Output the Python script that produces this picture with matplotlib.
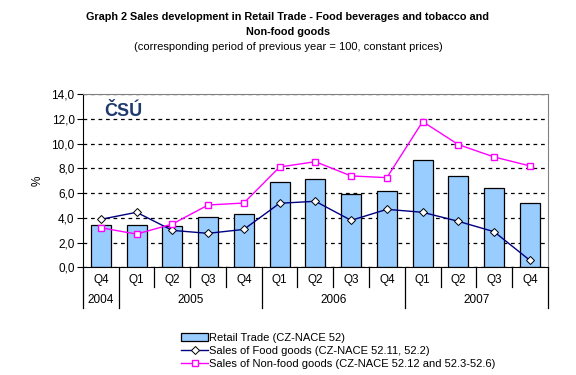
import matplotlib
matplotlib.use('Agg')
import matplotlib.pyplot as plt
import numpy as np

plt.rcParams['font.family'] = ['Liberation Sans', 'DejaVu Sans']

quarters = ['Q4', 'Q1', 'Q2', 'Q3', 'Q4', 'Q1', 'Q2', 'Q3', 'Q4', 'Q1', 'Q2', 'Q3', 'Q4']
years = ['2004', '2005', '2006', '2007']
year_spans = [1, 4, 4, 4]
retail = [3.42, 3.40, 3.34, 4.07, 4.29, 6.88, 7.14, 5.93, 6.15, 8.66, 7.36, 6.39, 5.18]
food = [3.88, 4.45, 2.99, 2.75, 3.07, 5.18, 5.34, 3.80, 4.69, 4.45, 3.72, 2.88, 0.57]
nonfood = [3.20, 2.69, 3.50, 5.04, 5.20, 8.11, 8.54, 7.39, 7.25, 11.78, 9.92, 8.92, 8.20]

fig = plt.figure(figsize=(5.76, 3.75), dpi=100)
ax = fig.add_axes([0.144, 0.287, 0.807, 0.462])

x = np.arange(len(quarters))
b = ax.bar(x, retail, width=0.56, color='#99CCFF', edgecolor='black', linewidth=0.9,
           label='Retail Trade (CZ-NACE 52)', zorder=2)
l1, = ax.plot(x, food, color='#000080', linewidth=1, marker='D', markersize=4.5,
              markerfacecolor='white', markeredgecolor='black', markeredgewidth=0.7,
              label='Sales of Food goods (CZ-NACE 52.11, 52.2)', zorder=3)
l2, = ax.plot(x, nonfood, color='#FF00FF', linewidth=1, marker='s', markersize=5,
              markerfacecolor='white', markeredgecolor='#FF00FF', markeredgewidth=1,
              label='Sales of Non-food goods (CZ-NACE 52.12 and 52.3-52.6)', zorder=3)

ax.set_xlim(-0.5, len(quarters) - 0.5)
ax.set_ylim(0, 14)
ax.set_yticks(np.arange(0, 15, 2))
ax.set_yticklabels([('%.1f' % v).replace('.', ',') for v in np.arange(0, 15, 2)], fontsize=8.5)
ax.tick_params(axis='y', length=4, width=0.8, pad=2)
ax.yaxis.grid(True, linestyle=(0, (3, 3)), color='black', linewidth=0.9, zorder=1)
ax.set_axisbelow(True)
ax.set_ylabel('%', fontsize=8.5, labelpad=6)

ax.spines['top'].set_color('#808080')
ax.spines['right'].set_color('#808080')
ax.spines['left'].set_color('black')
ax.spines['bottom'].set_color('black')

# two-level category axis
ax.set_xticks([])
trans = ax.get_xaxis_transform()
for i, q in enumerate(quarters):
    ax.text(i, -0.075, q, transform=trans, ha='center', va='center', fontsize=8.5)
bounds = np.arange(len(quarters) + 1) - 0.5
year_edges = np.concatenate([[0], np.cumsum(year_spans)]) - 0.5
for e in bounds:
    low = -0.237 if e in year_edges else -0.115
    ax.plot([e, e], [0, low], transform=trans, color='black', lw=0.9, clip_on=False)
for k, yr in enumerate(years):
    mid = (year_edges[k] + year_edges[k + 1]) / 2
    ax.text(mid, -0.19, yr, transform=trans, ha='center', va='center', fontsize=8.5)

ax.text(0.045, 0.9, 'ČSÚ', transform=ax.transAxes, fontsize=13, fontweight='bold',
        color='#1F3A6E', ha='left', va='center')

fig.text(0.5, 0.955, 'Graph 2 Sales development in Retail Trade - Food beverages and tobacco and',
         ha='center', va='center', fontsize=7.8, fontweight='bold')
fig.text(0.5, 0.915, 'Non-food goods', ha='center', va='center', fontsize=7.8, fontweight='bold')
fig.text(0.5, 0.875, '(corresponding period of previous year = 100, constant prices)',
         ha='center', va='center', fontsize=8)

fig.legend(handles=[b, l1, l2], loc='upper left', bbox_to_anchor=(0.305, 0.128), frameon=False,
           fontsize=8, handlelength=2.4, handletextpad=0.1, labelspacing=0.3, borderpad=0)

fig.savefig('out.png', dpi=100)
